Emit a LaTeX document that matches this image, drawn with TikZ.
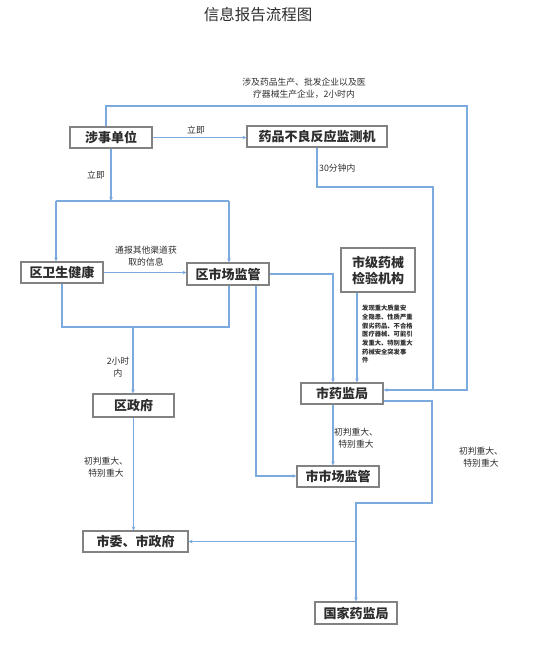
\documentclass[tikz,border=0pt]{standalone}
\usepackage{fontspec}
\newfontfamily\cjk{Noto Sans CJK SC}
\usetikzlibrary{arrows.meta,shadows}
\definecolor{lineblue}{RGB}{125,170,222}
\definecolor{boxgray}{RGB}{130,130,130}
\definecolor{txt}{RGB}{45,45,45}
\tikzset{
  box/.style={draw=boxgray, line width=1.1pt, fill=white, rectangle, inner sep=0pt,
    font=\cjk\bfseries\fontsize{13}{15}\selectfont, text=txt,
    drop shadow={shadow xshift=0.9pt, shadow yshift=-0.9pt, fill=black!22}},
  conn/.style={draw=lineblue, line width=1.1pt},
  arr/.style={conn, -{Stealth[length=4pt,width=3.6pt]}},
  lab/.style={font=\cjk\fontsize{8.8}{11.5}\selectfont, text=txt, align=center, inner sep=0pt},
  tiny/.style={font=\cjk\bfseries\fontsize{6.3}{8.7}\selectfont, text=txt, align=left, inner sep=0pt}
}
\begin{document}
\begin{tikzpicture}[x=1pt,y=-1pt]
\useasboundingbox (0,0) rectangle (554,670);
\node (title) at (258,15) {\cjk\fontsize{15.5}{18}\selectfont\color{txt}信息报告流程图};

% boxes
\node[box, minimum width=82pt, minimum height=21pt] (sheshi) at (111,137.5) {涉事单位};
\node[box, minimum width=140pt, minimum height=21pt] (adr) at (317,136.5) {药品不良反应监测机};
\node[box, minimum width=82pt, minimum height=21pt] (qws) at (62,272.5) {区卫生健康};
\node[box, minimum width=82pt, minimum height=22pt] (qsj) at (228,274) {区市场监管};
\node[box, minimum width=74pt, minimum height=44pt, align=center, font=\cjk\bfseries\fontsize{13}{16}\selectfont] (sjyx) at (378,270) {市级药械\\检验机构};
\node[box, minimum width=82pt, minimum height=21pt] (syj) at (342,393.5) {市药监局};
\node[box, minimum width=81pt, minimum height=23pt] (qzf) at (133.5,405.5) {区政府};
\node[box, minimum width=82pt, minimum height=21pt] (ssj) at (338,476.5) {市市场监管};
\node[box, minimum width=105pt, minimum height=21pt] (swzf) at (135.5,541.5) {市委、市政府};
\node[box, minimum width=82pt, minimum height=22pt] (gj) at (356,613) {国家药监局};

% coordinates
\coordinate (t1) at (106,106);
\coordinate (t2) at (467,106);
\coordinate (t3) at (467,390);
\coordinate (sp) at (111,201);
\coordinate (sL) at (56,201);
\coordinate (sR) at (229,201);
\coordinate (a1) at (433,187);
\coordinate (b1) at (333,274);
\coordinate (c1) at (357,292);
\coordinate (d1) at (229,327);
\coordinate (d3) at (133,327);
\coordinate (e1) at (256,476);
\coordinate (f1) at (432,401);
\coordinate (f2) at (432,503);
\coordinate (f3) at (356,503);

% connectors
\draw[arr] (sheshi.north -| t1) -- (t1) -- (t2) -- (t3) -- (t3 -| syj.east);
\draw[arr] (sheshi.east) -- (sheshi.east -| adr.west);
\draw[arr] (sheshi.south) -- (sp);
\draw[conn] (sL) -- (sR);
\draw[arr] (sL) -- (sL |- qws.north);
\draw[arr] (sR) -- (sR |- qsj.north);
\draw[arr] (qws.east) -- (qws.east -| qsj.west);
\draw[conn] (adr.south) |- (a1) -- (a1 |- t3);
\draw[arr] (qsj.east) -- (b1) -- (b1 |- syj.north);
\draw[arr] (c1 |- sjyx.south) -- (c1 |- syj.north);
\draw[conn] (qws.south) |- (d1) -- (d1 |- qsj.south);
\draw[arr] (d3) -- (d3 |- qzf.north);
\draw[arr] (e1 |- qsj.south) -- (e1) -- (e1 -| ssj.west);
\draw[arr] (qzf.south) -- (qzf.south |- swzf.north);
\draw[arr] (b1 |- syj.south) -- (b1 |- ssj.north);
\draw[arr] (f1 -| syj.east) -- (f1) -- (f2) -- (f3) -- (f3 |- gj.north);
\draw[arr] (f3 |- swzf.east) -- (swzf.east);

% labels
\node[lab] (l1) at (304,88) {涉及药品生产、批发企业以及医\\疗器械生产企业，2小时内};
\node[lab] (l2) at (196,130) {立即};
\node[lab] (l3) at (96,175) {立即};
\node[lab, anchor=west] (l4) at (319,168) {30分钟内};
\node[lab] (l5) at (146,256) {通报其他渠道获\\取的信息};
\node[tiny, anchor=north west] (l6) at (362,305) {发现重大质量安\\全隐患、性质严重\\假劣药品、不合格\\医疗器械、可能引\\发重大、特别重大\\药械安全突发事\\件};
\node[lab] (l7) at (118,367) {2小时\\内};
\node[lab] (l8) at (106,467) {初判重大、\\特别重大};
\node[lab] (l9) at (356,438) {初判重大、\\特别重大};
\node[lab] (l10) at (481,457) {初判重大、\\特别重大};
\end{tikzpicture}
\end{document}
